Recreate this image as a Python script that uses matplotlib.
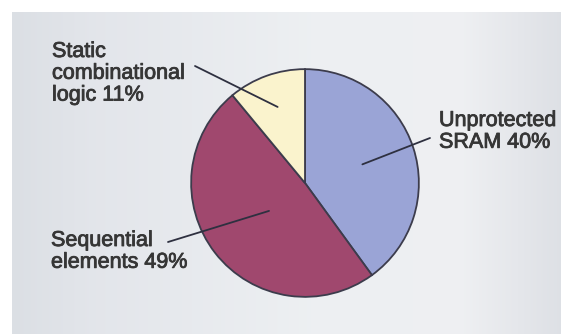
"""Soft-error contribution pie: SRAM vs sequential vs combinational logic."""

import matplotlib

matplotlib.use("Agg")
import numpy as np
import matplotlib.pyplot as plt
import matplotlib.patheffects as pe

# data (clockwise from 12 o'clock)
CATEGORIES = ["Unprotected\nSRAM", "Sequential\nelements", "Static\ncombinational\nlogic"]
SHARES = [40, 49, 11]
COLORS = ["#9aa4d6", "#a0486e", "#faf3cd"]

INK = "#363636"
EDGE = "#3c3c4c"

W, H = 561, 334
fig = plt.figure(figsize=(W / 100, H / 100), dpi=100, facecolor="white")

# gray panel with a soft horizontal gradient
bg = fig.add_axes([12 / W, 0, (W - 12) / W, (H - 12) / H])
stops_x = [0.0, 0.15, 0.55, 0.82, 1.0]
stops_c = np.array([[0.86, 0.875, 0.895], [0.89, 0.90, 0.92], [0.93, 0.94, 0.95],
                    [0.935, 0.94, 0.95], [0.87, 0.88, 0.90]])
xs = np.linspace(0, 1, 400)
grad = np.stack([np.interp(xs, stops_x, stops_c[:, i]) for i in range(3)], axis=-1)
bg.imshow(grad[None, :, :], aspect="auto", extent=[0, 1, 0, 1])
bg.set_axis_off()

# pie, centred at (305, 183) px with radius 115 px
cx, cy, r = 305, 183, 115
ax = fig.add_axes([(cx - r) / W, (H - cy - r) / H, 2 * r / W, 2 * r / H])
wedges, _ = ax.pie(SHARES, colors=COLORS, startangle=90, counterclock=False,
                   wedgeprops=dict(edgecolor=EDGE, linewidth=1.3))
ax.set_xlim(-1.01, 1.01)
ax.set_ylim(-1.01, 1.01)
ax.set_aspect("auto")

# labels: text position (px from top-left), leader start (px), leader depth in wedge
label_text = [f"{c} {s}%" for c, s in zip(CATEGORIES, SHARES)]
text_pos = [(439, 110), (51, 230), (52, 41)]
leader_start = [(430, 138), (168, 242), (195, 66)]
leader_depth = [0.53, 0.40, 0.71]

for w, txt, (tx, ty), (lx, ly), d in zip(wedges, label_text, text_pos, leader_start, leader_depth):
    mid = np.deg2rad((w.theta1 + w.theta2) / 2)
    ax.annotate("", xy=(d * np.cos(mid), d * np.sin(mid)), xycoords="data",
                xytext=(lx, H - ly), textcoords="figure pixels",
                arrowprops=dict(arrowstyle="-", color="#2e3040", lw=1.3,
                                shrinkA=0, shrinkB=0))
    fig.text(tx / W, 1 - ty / H, txt, ha="left", va="top", color=INK,
             fontsize=15.5, family="Liberation Sans", linespacing=1.05,
             path_effects=[pe.withStroke(linewidth=0.6, foreground=INK)])

fig.savefig("out.png", dpi=100, facecolor="white")
